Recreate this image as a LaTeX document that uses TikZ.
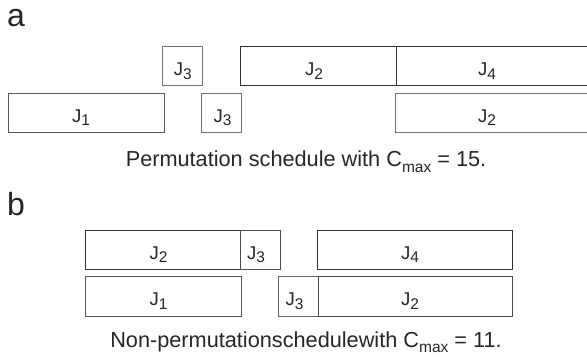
\documentclass[tikz,border=0pt]{standalone}
\usepackage{fontspec}
\setmainfont{Liberation Sans}
\newcommand\jsub[1]{\raisebox{-0.2em}{\fontsize{15.5}{15}\selectfont #1}}
\newcommand\msub[1]{\raisebox{-0.25em}{\fontsize{15.5}{16}\selectfont #1}}
\begin{document}
\begin{tikzpicture}[x=1pt,y=-1pt,
  job/.style={draw=#1, line width=1pt, fill=white},
  lab/.style={font=\fontsize{18.5}{18}\selectfont, anchor=base, inner sep=0pt, text=black!85},
  captext/.style={font=\fontsize{21.7}{22}\selectfont, anchor=base, inner sep=0pt, text=black!85},
  part/.style={font=\fontsize{32}{32}\selectfont, anchor=base west, inner sep=0pt, text=black!85}]
\useasboundingbox (0,0) rectangle (587,361);
\begin{scope}
\clip (0,0) rectangle (587,361);
% part a
\node[part] (la) at (7,26.7) {a};
\draw[job=black!55] (162.7,46.7) rectangle (202.7,86);
\draw[job=black!80] (240.7,46.7) rectangle (396,86);
\draw[job=black!80] (396,46.7) rectangle (610,86);
\draw[job=black!65] (8.3,93.3) rectangle (164.3,132.7);
\draw[job=black!55] (201.7,93.3) rectangle (241.7,132.7);
\draw[job=black!55] (395,93.3) rectangle (610,132.7);
\node[lab] (a3t) at (182.7,76) {J\jsub{3}};
\node[lab] (a2t) at (314,76) {J\jsub{2}};
\node[lab] (a4t) at (487,76) {J\jsub{4}};
\node[lab] (a1b) at (81,122) {J\jsub{1}};
\node[lab] (a3b) at (222.5,122) {J\jsub{3}};
\node[lab] (a2b) at (487,122) {J\jsub{2}};
\node[captext] (capa) at (306,166.7) {Permutation schedule with C\msub{max} = 15.};
% part b
\node[part] (lb) at (7,215.7) {b};
\draw[job=black!80] (85.3,230) rectangle (240.7,269.3);
\draw[job=black!70] (240.7,230) rectangle (280,269.3);
\draw[job=black!80] (317.7,230) rectangle (512.3,269.3);
\draw[job=black!65] (85.3,276) rectangle (241.7,316);
\draw[job=black!60] (278.7,276) rectangle (318.3,316);
\draw[job=black!70] (318.3,276) rectangle (512.3,316);
\node[lab] (b2t) at (158.5,259) {J\jsub{2}};
\node[lab] (b3t) at (256,259) {J\jsub{3}};
\node[lab] (b4t) at (410,259) {J\jsub{4}};
\node[lab] (b1b) at (158.5,305.5) {J\jsub{1}};
\node[lab] (b3b) at (294.5,305.5) {J\jsub{3}};
\node[lab] (b2b) at (410,305.5) {J\jsub{2}};
\node[captext] (capb) at (306,347) {Non-permutationschedulewith C\msub{max} = 11.};
\end{scope}
\end{tikzpicture}
\end{document}
